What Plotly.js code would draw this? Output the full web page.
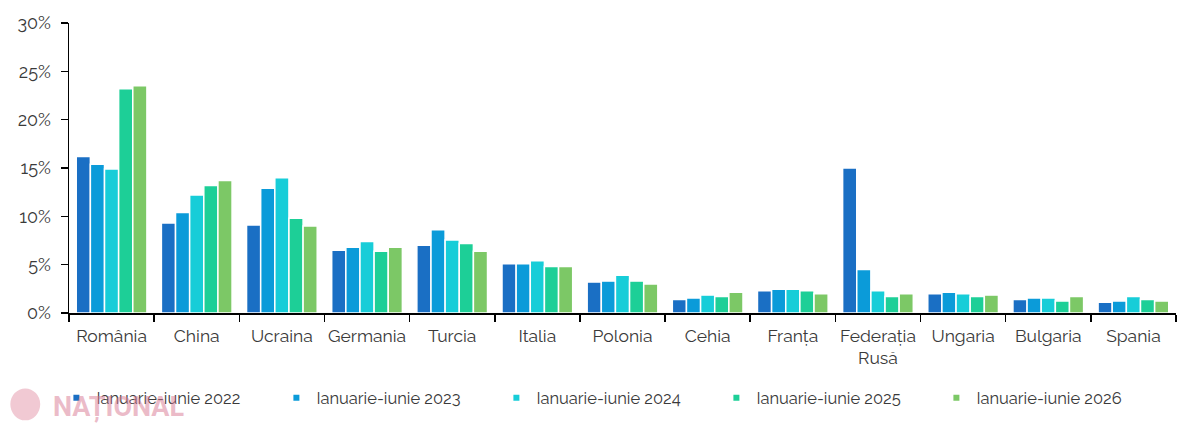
<!DOCTYPE html>
<html>
<head>
<meta charset="utf-8">
<script src="https://cdn.plot.ly/plotly-3.0.1.min.js"></script>
<style>
  html, body { margin: 0; padding: 0; background: #fff; }
  #chart { width: 1200px; height: 428px; }
</style>
</head>
<body>
<div id="chart"></div>
<script>
// categories and series (share of total, %)
const countries = ['România', 'China', 'Ucraina', 'Germania', 'Turcia', 'Italia', 'Polonia',
  'Cehia', 'Franța', 'Federația<br>Rusă', 'Ungaria', 'Bulgaria', 'Spania'];

const seriesNames = ['Ianuarie-iunie 2022', 'Ianuarie-iunie 2023', 'Ianuarie-iunie 2024',
  'Ianuarie-iunie 2025', 'Ianuarie-iunie 2026'];

const v2022 = [16.2, 9.3, 9.1, 6.5, 7.0, 5.1, 3.2, 1.4, 2.3, 15.0, 2.0, 1.4, 1.1];
const v2023 = [15.4, 10.4, 12.9, 6.8, 8.6, 5.1, 3.3, 1.55, 2.45, 4.5, 2.15, 1.55, 1.25];
const v2024 = [14.9, 12.2, 14.0, 7.4, 7.55, 5.4, 3.9, 1.85, 2.45, 2.3, 2.0, 1.55, 1.7];
const v2025 = [23.2, 13.2, 9.8, 6.4, 7.2, 4.8, 3.3, 1.7, 2.3, 1.7, 1.7, 1.25, 1.4];
const v2026 = [23.5, 13.7, 9.0, 6.8, 6.4, 4.8, 3.0, 2.15, 2.0, 2.0, 1.85, 1.7, 1.25];

const yTicks = [0, 5, 10, 15, 20, 25, 30];
const yTickText = ['0%', '5%', '10%', '15%', '20%', '25%', '30%'];

const colors = ['#1a6fc4', '#0b9bd9', '#17cdd8', '#1dcf97', '#7cc866'];
const values = [v2022, v2023, v2024, v2025, v2026];

const FONT = 'Raleway, Lato, "Open Sans", sans-serif';

const traces = [];
values.forEach((vals, i) => {
  traces.push({
    type: 'bar', x: countries, y: vals, name: seriesNames[i],
    marker: { color: colors[i], line: { color: '#ffffff', width: 1.5 } },
    showlegend: false, hoverinfo: 'skip',
  });
});
// legend-only entries with small square markers
seriesNames.forEach((name, i) => {
  traces.push({
    type: 'scatter', mode: 'markers', x: [null], y: [null], name: name,
    marker: { color: colors[i], size: 6, symbol: 'square' },
  });
});

const layout = {
  width: 1200, height: 428,
  margin: { t: 23, r: 24, b: 115, l: 69 },
  paper_bgcolor: '#ffffff',
  plot_bgcolor: '#ffffff',
  barmode: 'group',
  bargap: 0.17,
  bargroupgap: 0,
  font: { family: FONT, size: 15, color: '#3a3a3a' },
  xaxis: {
    showline: true, linecolor: '#000000', linewidth: 1.5,
    ticks: 'outside', tickson: 'boundaries', ticklen: 7, tickcolor: '#000000', tickwidth: 1.5,
    showgrid: false, tickangle: 0, automargin: false,
    tickfont: { family: FONT, size: 17.5, color: '#3a3a3a' },
    ticklabelstandoff: 6,
  },
  yaxis: {
    range: [0, 30], tickvals: yTicks, ticktext: yTickText,
    showline: true, linecolor: '#000000', linewidth: 1.5,
    ticks: 'outside', ticklen: 7, tickcolor: '#000000', tickwidth: 1.5,
    showgrid: false, zeroline: false, automargin: false,
    tickfont: { family: FONT, size: 18, color: '#3a3a3a' },
    ticklabelstandoff: 6,
  },
  showlegend: true,
  legend: {
    orientation: 'h', xref: 'container', yref: 'container',
    x: 0.047, xanchor: 'left', y: 0.07, yanchor: 'middle',
    entrywidth: 175, entrywidthmode: 'pixels',
    itemwidth: 30, font: { family: FONT, size: 16.5, color: '#3a3a3a' },
    bgcolor: 'rgba(0,0,0,0)', tracegroupgap: 0,
  },
  shapes: [
    { type: 'circle', xref: 'paper', yref: 'paper',
      x0: -0.053, x1: -0.026, y0: -0.37, y1: -0.26,
      fillcolor: 'rgba(220,120,145,0.4)', line: { width: 0 }, layer: 'below' },
  ],
  annotations: [
    { text: '<b>NAȚIONAL</b>', xref: 'paper', yref: 'paper', x: -0.016, y: -0.325,
      xanchor: 'left', yanchor: 'middle', showarrow: false,
      font: { family: 'Roboto, sans-serif', size: 27, color: 'rgba(215,120,145,0.5)' } },
  ],
};

Plotly.newPlot('chart', traces, layout, { displayModeBar: false, staticPlot: true });
</script>
</body>
</html>
